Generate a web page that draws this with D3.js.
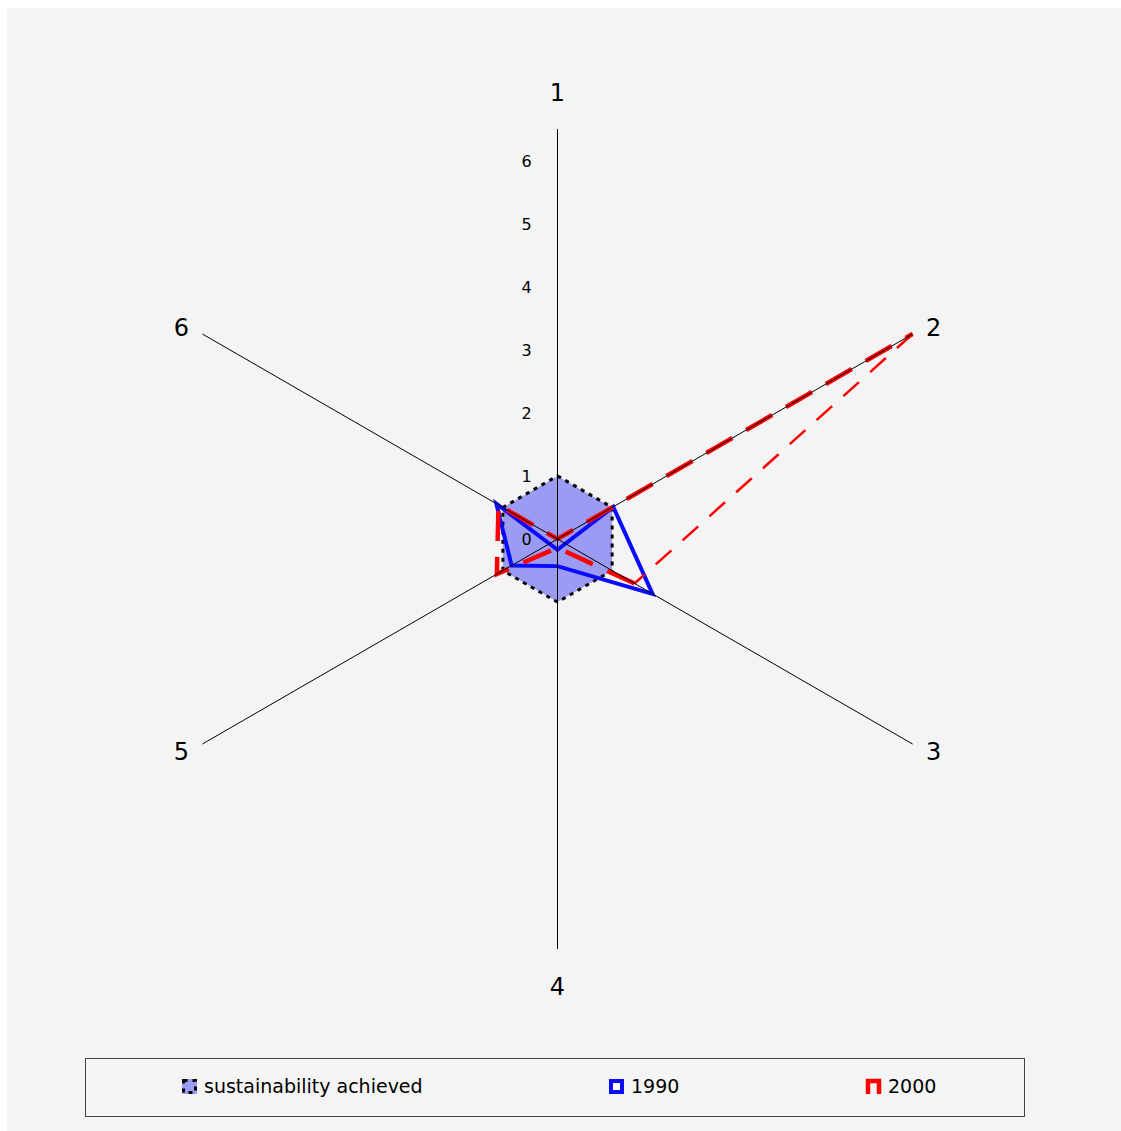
<!DOCTYPE html>
<html>
<head>
<meta charset="utf-8">
<script src="https://cdn.jsdelivr.net/npm/d3@7"></script>
<style>
  body { margin: 0; background: #fff; }
  text { font-family: "DejaVu Sans", Verdana, sans-serif; fill: #000; }
</style>
</head>
<body>
<svg width="1121" height="1131"></svg>
<script>
// data
let axes = ['1', '2', '3', '4', '5', '6'];
let ticks = [0, 1, 2, 3, 4, 5, 6];
let achieved = [1, 1, 1, 1, 1, 1];
let v1990 = [-0.17, 1.02, 1.74, 0.43, 0.84, 1.12];
let v2000 = [0.0, 6.5, 1.41, 0.14, 1.11, 1.08];
let legendNames = ['sustainability achieved', '1990', '2000'];

const cx = 557.5, cy = 539;
const maxR = 410;

let svg = d3.select('svg');

// background panel
svg.append('rect')
    .attr('x', 7).attr('y', 8)
    .attr('width', 1114).attr('height', 1123)
    .attr('fill', '#f4f4f4');

let rScale = d3.scaleLinear()
    .domain([0, 6.5])
    .range([0, maxR]);

let angle = i => i * Math.PI / 3;   // clockwise from top
function pt(v, i) {
    let r = rScale(v);
    return [cx + r * Math.sin(angle(i)), cy - r * Math.cos(angle(i))];
}

let line = d3.line();
let chart = svg.append('g');

// sustainability achieved area
chart.append('path')
    .attr('d', line(achieved.map(pt)) + 'Z')
    .attr('fill', '#9b9bf3')
    .attr('stroke', '#000')
    .attr('stroke-width', 3)
    .attr('stroke-dasharray', '4,5');

// tick labels along axis 1
chart.selectAll('.tick')
    .data(ticks)
    .enter().append('text')
    .attr('class', 'tick')
    .attr('x', cx - 31)
    .attr('y', d => cy - rScale(d) + 6)
    .attr('text-anchor', 'middle')
    .style('font-size', '16px')
    .text(d => d);

// 1990 series
chart.append('path')
    .attr('d', line(v1990.map(pt)) + 'Z')
    .attr('fill', 'none')
    .attr('stroke', '#0a0aff')
    .attr('stroke-width', 4)
    .attr('stroke-linejoin', 'miter');

// 2000 series - thick dashes, the 2 -> 3 edge comes out thin
let p2000 = v2000.map(pt);
let thickPts = [p2000[2], p2000[3], p2000[4], p2000[5], p2000[0], p2000[1]];
chart.append('path')
    .attr('d', line(thickPts))
    .attr('fill', 'none')
    .attr('stroke', '#ff0000')
    .attr('stroke-width', 4.5)
    .attr('stroke-dasharray', '30,16');
chart.append('path')
    .attr('d', line([p2000[1], p2000[2]]))
    .attr('fill', 'none')
    .attr('stroke', '#ff0000')
    .attr('stroke-width', 2.5)
    .attr('stroke-dasharray', '21,15');

// axis spokes
chart.selectAll('.spoke')
    .data(axes)
    .enter().append('line')
    .attr('class', 'spoke')
    .attr('x1', cx).attr('y1', cy)
    .attr('x2', (d, i) => pt(6.5, i)[0])
    .attr('y2', (d, i) => pt(6.5, i)[1])
    .attr('stroke', '#000')
    .attr('stroke-width', 1);

// axis labels, just past the end of each spoke
function labelPos(i) {
    let end = pt(6.5, i);
    let sx = Math.sign(Math.round(Math.sin(angle(i)) * 10));
    let sy = Math.sign(Math.round(-Math.cos(angle(i)) * 10));
    if (sx == 0) return [end[0], end[1] + sy * 37];
    return [end[0] + sx * 21, end[1] + sy * 7];
}
chart.selectAll('.axis-label')
    .data(axes)
    .enter().append('text')
    .attr('class', 'axis-label')
    .attr('x', (d, i) => labelPos(i)[0])
    .attr('y', (d, i) => labelPos(i)[1] + 9)
    .attr('text-anchor', 'middle')
    .style('font-size', '24px')
    .text(d => d);

// legend
let legend = svg.append('g');
legend.append('rect')
    .attr('x', 85.5).attr('y', 1058.5)
    .attr('width', 939).attr('height', 58)
    .attr('fill', 'none')
    .attr('stroke', '#444')
    .attr('stroke-width', 1);

let legX = [182, 609, 866];
let items = legend.selectAll('.item')
    .data(legendNames)
    .enter().append('g')
    .attr('class', 'item')
    .attr('transform', (d, i) => `translate(${legX[i]},1079)`);

items.each(function(d, i) {
    let g = d3.select(this);
    if (i == 0) {
        g.append('rect').attr('x', 0).attr('y', 0).attr('width', 15).attr('height', 15)
            .attr('fill', '#9b9bf3');
        g.append('rect').attr('x', 1.5).attr('y', 1.5).attr('width', 12).attr('height', 12)
            .attr('fill', 'none').attr('stroke', '#000').attr('stroke-width', 3)
            .attr('stroke-dasharray', '4,5');
    } else if (i == 1) {
        g.append('rect').attr('x', 2).attr('y', 2).attr('width', 11).attr('height', 11)
            .attr('fill', '#fff').attr('stroke', '#0a0aff').attr('stroke-width', 4);
    } else {
        g.append('path').attr('d', 'M2,15V2H13V15')
            .attr('fill', 'none').attr('stroke', '#ff0000').attr('stroke-width', 4.5);
    }
    g.append('text')
        .attr('x', 22).attr('y', 14)
        .style('font-size', '19px')
        .text(d);
});
</script>
</body>
</html>
